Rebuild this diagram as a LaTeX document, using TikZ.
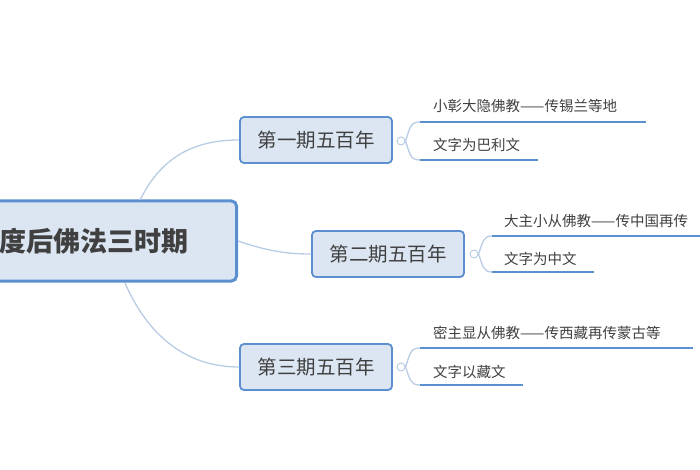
\documentclass[tikz,border=0pt]{standalone}
\usepackage{fontspec}
\setmainfont{Noto Sans CJK SC}
\definecolor{boxfill}{HTML}{DCE6F2}
\definecolor{boxline}{HTML}{5B8FD0}
\definecolor{linkline}{HTML}{B8CCE4}
\definecolor{txt}{HTML}{404040}
\tikzstyle{mainbox} = [rectangle, rounded corners=5pt, draw=boxline, line width=3pt, fill=boxfill, text=txt, font=\bfseries\fontsize{27}{30}\selectfont]
\tikzstyle{periodbox} = [rectangle, rounded corners=4pt, draw=boxline, line width=1.8pt, fill=boxfill, text=txt, minimum width=152pt, minimum height=46pt, font=\fontsize{19.5}{22}\selectfont]
\tikzstyle{leaf} = [anchor=base west, text=txt, inner sep=0pt, font=\fontsize{14.5}{16}\selectfont]
\tikzstyle{link} = [linkline, line width=1.3pt]
\tikzstyle{under} = [boxline, line width=2pt]
\tikzstyle{knob} = [circle, draw=linkline, line width=1pt, fill=white, inner sep=0pt, minimum size=8pt]
\begin{document}
\begin{tikzpicture}[x=1pt, y=-1pt]
	\useasboundingbox (0,0) rectangle (700,470);
	\begin{scope}
	\clip (0,0) rectangle (700,470);
	\node (root) at (113,241) [mainbox, minimum width=247pt, minimum height=80pt, text width=227pt, inner xsep=10pt, align=left] {度后佛法三时期};
	\node (p1) at (316,140) [periodbox] {第一期五百年};
	\node (p2) at (388,254) [periodbox] {第二期五百年};
	\node (p3) at (316,367) [periodbox] {第三期五百年};
	\node (k1) at (401,141) [knob] {};
	\node (k2) at (474,254) [knob] {};
	\node (k3) at (401,367) [knob] {};
	\coordinate (u1a) at (420,122); \coordinate (u1b) at (420,160);
	\coordinate (u2a) at (492,236); \coordinate (u2b) at (492,272);
	\coordinate (u3a) at (420,348); \coordinate (u3b) at (420,385);
	% root to periods
	\draw [link] (140,200) .. controls (160,160) and (190,140) .. (p1.west);
	\draw [link] (root.east) .. controls (270,252) and (290,254) .. (p2.west);
	\draw [link] (125,283) .. controls (150,340) and (190,367) .. (p3.west);
	% periods to leaves
	\draw [link] (k1.east) .. controls (410,128) and (410,122) .. (u1a);
	\draw [link] (k1.east) .. controls (410,154) and (410,160) .. (u1b);
	\draw [link] (k2.east) .. controls (483,242) and (483,236) .. (u2a);
	\draw [link] (k2.east) .. controls (483,266) and (483,272) .. (u2b);
	\draw [link] (k3.east) .. controls (410,354) and (410,348) .. (u3a);
	\draw [link] (k3.east) .. controls (410,379) and (410,385) .. (u3b);
	\draw [under] (u1a) -- ++(226,0);
	\draw [under] (u1b) -- ++(118,0);
	\draw [under] (u2a) -- ++(215,0);
	\draw [under] (u2b) -- ++(102,0);
	\draw [under] (u3a) -- ++(273,0);
	\draw [under] (u3b) -- ++(103,0);
	\node (l1a) at (433,112) [leaf] {小彰大隐佛教——传锡兰等地};
	\node (l1b) at (433,151) [leaf] {文字为巴利文};
	\node (l2a) at (504,226) [leaf] {大主小从佛教——传中国再传};
	\node (l2b) at (504,264) [leaf] {文字为中文};
	\node (l3a) at (433,338) [leaf] {密主显从佛教——传西藏再传蒙古等};
	\node (l3b) at (433,377) [leaf] {文字以藏文};
	\end{scope}
\end{tikzpicture}
\end{document}
